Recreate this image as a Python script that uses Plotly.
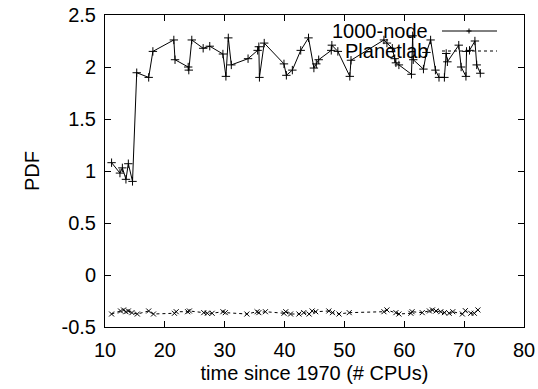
import plotly.graph_objects as go

node_x = [11.1, 12.5, 12.9, 13.5, 13.9, 14.6, 15.3, 17.3, 18.0, 21.5, 21.7, 23.9, 24.0, 24.5,
          26.4, 27.5, 29.7, 30.2, 30.6, 31.1, 33.9, 35.5, 35.7, 35.8, 36.6, 39.9, 40.3, 41.3,
          42.7, 44.0, 44.9, 45.3, 45.7, 47.8, 47.9, 48.9, 50.9, 51.1, 56.6, 57.1, 58.0, 58.4,
          58.6, 59.1, 61.2, 61.4, 61.5, 63.2, 63.7, 64.4, 65.2, 65.8, 66.7, 67.0, 67.2, 69.1,
          69.5, 70.3, 70.4, 70.9, 71.8, 72.1, 72.7]
node_y = [1.08, 0.98, 1.03, 0.92, 1.07, 0.90, 1.945, 1.90, 2.15, 2.26, 2.07, 2.00, 1.97, 2.26,
          2.18, 2.20, 2.125, 1.91, 2.28, 2.02, 2.08, 2.16, 2.195, 1.90, 2.23, 2.03, 1.92, 1.97,
          2.16, 2.28, 1.99, 2.03, 2.07, 2.16, 2.21, 2.15, 1.91, 2.065, 2.26, 2.23, 2.18, 2.08,
          2.04, 2.02, 1.93, 2.30, 2.07, 1.98, 2.14, 2.26, 1.97, 1.90, 1.90, 2.13, 2.05, 2.21,
          2.00, 1.91, 2.15, 2.16, 2.25, 2.02, 1.94]

plab_x = [11.1, 12.6, 13.1, 13.5, 13.9, 14.5, 15.4, 17.3, 18.1, 21.6, 21.9, 23.8, 24.1, 26.5,
          27.1, 27.9, 29.7, 30.1, 33.7, 35.4, 35.7, 36.8, 39.9, 40.2, 41.0, 42.4, 43.2, 44.1,
          44.6, 45.2, 47.4, 48.0, 49.1, 50.8, 56.6, 57.1, 58.6, 59.1, 61.1, 61.3, 63.0, 64.2,
          64.7, 65.3, 66.1, 66.7, 67.5, 68.1, 69.7, 70.2, 71.1, 71.7, 72.3]
plab_y = [-0.375, -0.346, -0.336, -0.353, -0.346, -0.362, -0.375, -0.346, -0.375, -0.368, -0.353,
          -0.353, -0.346, -0.362, -0.368, -0.368, -0.353, -0.362, -0.375, -0.353, -0.362, -0.353,
          -0.368, -0.353, -0.375, -0.375, -0.362, -0.375, -0.346, -0.353, -0.346, -0.362, -0.375,
          -0.362, -0.353, -0.336, -0.362, -0.375, -0.368, -0.353, -0.362, -0.346, -0.336, -0.346,
          -0.353, -0.362, -0.368, -0.353, -0.375, -0.343, -0.368, -0.368, -0.336]

x_ticks = [10, 20, 30, 40, 50, 60, 70, 80]
y_ticks = [-0.5, 0, 0.5, 1, 1.5, 2, 2.5]
series_names = ["1000-node", "Planetlab"]

FONT = "Liberation Sans, Arial, sans-serif"
FS = 20

fig = go.Figure()
fig.add_trace(go.Scatter(
    x=node_x, y=node_y, mode="lines+markers", name=series_names[0],
    line=dict(color="black", width=1),
    marker=dict(symbol="cross-thin", size=6, line=dict(color="black", width=1)),
    showlegend=False))
fig.add_trace(go.Scatter(
    x=plab_x, y=plab_y, mode="lines+markers", name=series_names[1],
    line=dict(color="black", width=1, dash="3px,3px"),
    marker=dict(symbol="x-thin", size=5, line=dict(color="black", width=1)),
    showlegend=False))

# gnuplot-style legend (text left, sample right), top-right inside plot
L, R, T, B = 105, 14, 15, 62
W, H = 538, 389
pw, ph = W - L - R, H - T - B
def px(x):
    return (x - L) / pw
def py(y):
    return 1 - (y - T) / ph

for i, (name, dash) in enumerate(zip(series_names, ["solid", "3px,3px"])):
    yy = 31 + i * 20
    fig.add_annotation(x=px(430), y=py(yy), xref="paper", yref="paper", text=name,
                       showarrow=False, xanchor="right", yanchor="middle",
                       font=dict(family=FONT, size=FS, color="black"))
    fig.add_shape(type="line", xref="paper", yref="paper", x0=px(442), x1=px(497),
                  y0=py(yy), y1=py(yy), line=dict(color="black", width=1, dash=dash))
# plus sign on first legend sample
fig.add_shape(type="line", xref="paper", yref="paper", x0=px(466.5), x1=px(471.5),
              y0=py(31), y1=py(31), line=dict(color="black", width=1))
fig.add_shape(type="line", xref="paper", yref="paper", x0=px(469), x1=px(469),
              y0=py(28.5), y1=py(33.5), line=dict(color="black", width=1))

axis_common = dict(showline=True, linecolor="black", linewidth=1, mirror="ticks",
                   ticks="inside", ticklen=6, tickcolor="black", tickwidth=1,
                   showgrid=False, zeroline=False,
                   tickfont=dict(family=FONT, size=FS, color="black"))
fig.update_xaxes(range=[10, 80], tickvals=x_ticks, ticktext=[str(v) for v in x_ticks],
                 ticklabelstandoff=5,
                 title=dict(text="time since 1970 (# CPUs)",
                            font=dict(family=FONT, size=FS, color="black"), standoff=5),
                 **axis_common)
fig.update_yaxes(range=[-0.5, 2.5], tickvals=y_ticks, ticktext=[f"{v:g}" for v in y_ticks],
                 ticklabelstandoff=4,
                 title=dict(text="PDF", font=dict(family=FONT, size=FS, color="black"), standoff=16),
                 **axis_common)
fig.update_layout(width=W, height=H, margin=dict(l=L, r=R, t=T, b=B, autoexpand=False),
                  paper_bgcolor="white", plot_bgcolor="white",
                  font=dict(family=FONT, size=FS, color="black"))
fig.write_html("out.html")
